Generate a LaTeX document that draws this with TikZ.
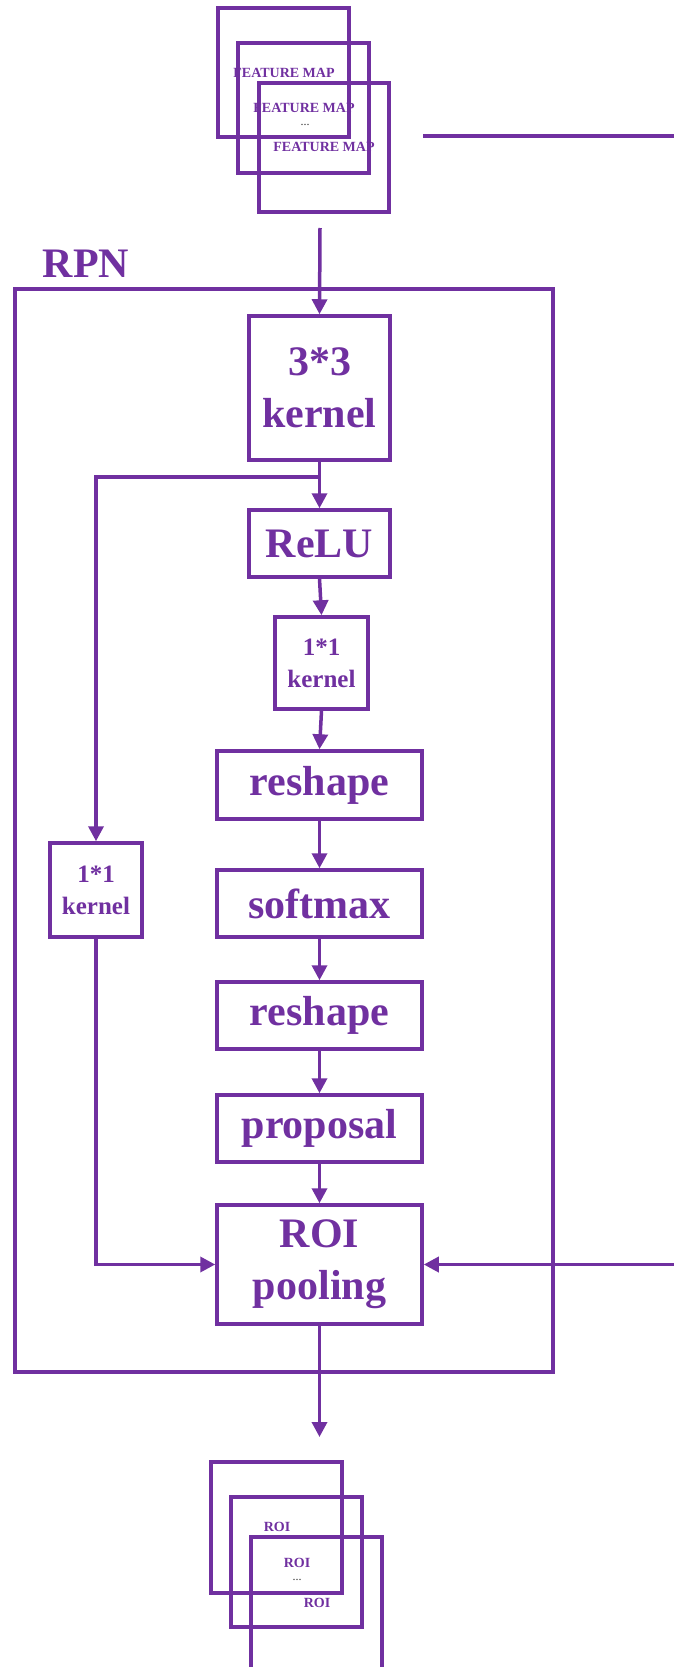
\documentclass[tikz,border=0pt]{standalone}
\usepackage{fontspec}
\setmainfont{Liberation Serif}
\usetikzlibrary{arrows.meta}
\definecolor{rpnpurple}{HTML}{7030A0}
\tikzset{
  frame/.style={draw=rpnpurple, line width=3.5pt, rectangle, inner sep=0pt},
  stepbox/.style={frame, text=rpnpurple, font=\bfseries\fontsize{42}{52}\selectfont, align=center},
  smallbox/.style={frame, text=rpnpurple, font=\bfseries\fontsize{25}{32}\selectfont, align=center},
  maplabel/.style={text=rpnpurple, font=\bfseries\fontsize{14}{16}\selectfont, inner sep=0pt},
  dots/.style={text=black!80, font=\fontsize{12}{14}\selectfont, inner sep=0pt},
  link/.style={draw=rpnpurple, line width=3.5pt},
  arr/.style={link, -{Triangle[length=15pt,width=15pt]}},
}
\begin{document}
\begin{tikzpicture}[x=1pt, y=-1pt]
\useasboundingbox (0,0) rectangle (673,1667);

% input feature maps
\node[frame, minimum width=131pt, minimum height=129pt] (fm1) at (283.5,72.5) {};
\node[frame, minimum width=131pt, minimum height=130pt] (fm2) at (303.5,108) {};
\node[frame, minimum width=130pt, minimum height=129pt] (fm3) at (324,147.5) {};
\node[maplabel] (fmt1) at (284,73) {FEATURE MAP};
\node[maplabel] (fmt2) at (304,108) {FEATURE MAP};
\node[dots] (fmdots) at (305,125) {...};
\node[maplabel] (fmt3) at (324,147) {FEATURE MAP};

% RPN frame and title
\node[frame, minimum width=538pt, minimum height=1083pt] (rpn) at (284,830.5) {};
\node[text=rpnpurple, font=\bfseries\fontsize{42}{50}\selectfont, inner sep=0pt] (rpnlabel) at (86,264) {RPN};

% processing steps
\node[stepbox, minimum width=141pt, minimum height=144pt] (k33) at (319.5,388) {3*3\\kernel};
\node[stepbox, minimum width=141pt, minimum height=67pt] (relu) at (319.5,543.5) {ReLU};
\node[smallbox, minimum width=93pt, minimum height=92pt] (k11m) at (321.5,663) {1*1\\kernel};
\node[stepbox, minimum width=205pt, minimum height=68pt] (resh1) at (319.5,785) {reshape};
\node[stepbox, minimum width=205pt, minimum height=67pt] (soft) at (319.5,903.5) {softmax};
\node[stepbox, minimum width=205pt, minimum height=67pt] (resh2) at (319.5,1015.5) {reshape};
\node[stepbox, minimum width=205pt, minimum height=67pt] (prop) at (319.5,1128.5) {proposal};
\node[stepbox, minimum width=205pt, minimum height=119pt] (roipool) at (319.5,1264.5) {ROI\\pooling};
\node[smallbox, minimum width=92pt, minimum height=94pt] (k11l) at (96,890) {1*1\\kernel};

% output ROIs
\node[frame, minimum width=131pt, minimum height=131pt] (roi1) at (276.5,1527.5) {};
\node[frame, minimum width=131pt, minimum height=130pt] (roi2) at (296.5,1562) {};
\node[frame, minimum width=131pt, minimum height=132pt] (roi3) at (316.5,1603) {};
\node[maplabel] (roit1) at (277,1527) {ROI};
\node[maplabel] (roit2) at (297,1563) {ROI};
\node[dots] (roidots) at (297,1580) {...};
\node[maplabel] (roit3) at (317,1603) {ROI};

% free ends of connectors
\coordinate (fmout) at (320,228);
\coordinate (branch) at (319.5,477);
\coordinate (topl) at (423,136);
\coordinate (topr) at (680,136);
\coordinate (rin) at (680,1264.5);
\coordinate (roiout) at (319.5,1437);

% connectors
\draw[link] (topl) -- (topr);
\draw[arr] (fmout) -- (k33.north);
\draw[arr] (k33.south) -- (relu.north);
\draw[arr] (branch) -| (k11l.north);
\draw[arr] (relu.south) -- (k11m.north);
\draw[arr] (k11m.south) -- (resh1.north);
\draw[arr] (resh1.south) -- (soft.north);
\draw[arr] (soft.south) -- (resh2.north);
\draw[arr] (resh2.south) -- (prop.north);
\draw[arr] (prop.south) -- (roipool.north);
\draw[arr] (k11l.south) |- (roipool.west);
\draw[arr] (rin) -- (roipool.east);
\draw[arr] (roipool.south) -- (roiout);
\end{tikzpicture}
\end{document}
